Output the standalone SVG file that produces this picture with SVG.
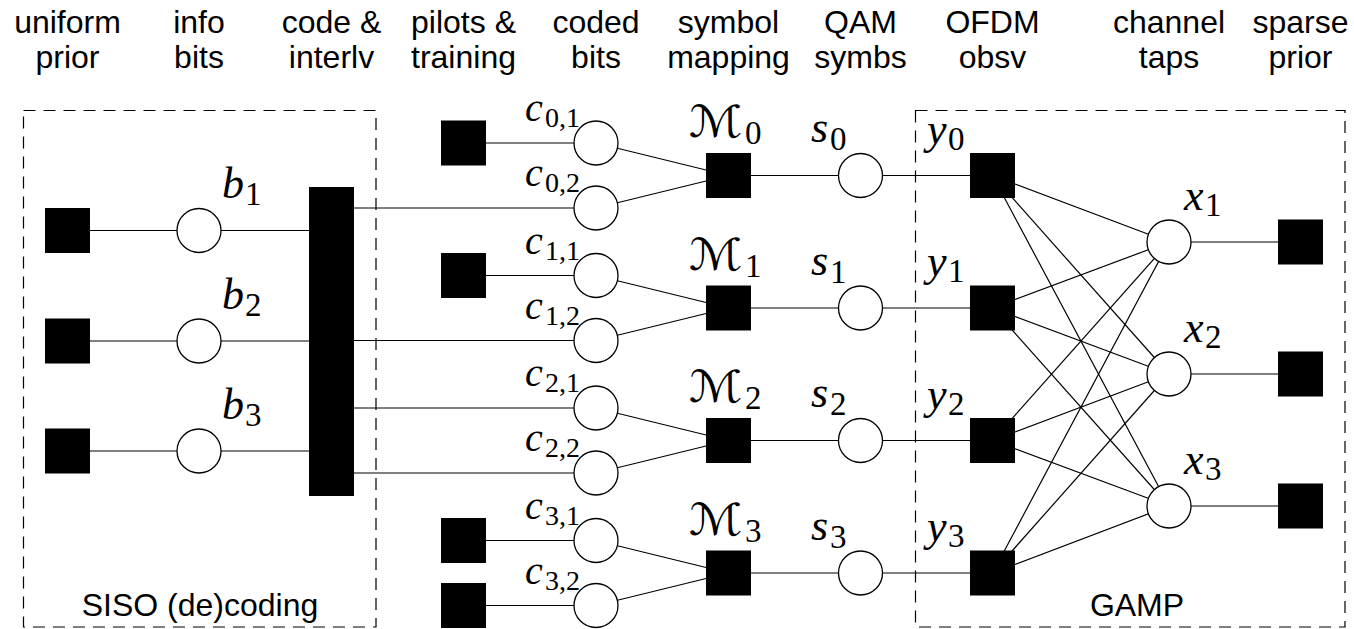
<svg xmlns="http://www.w3.org/2000/svg" width="1354" height="629" viewBox="0 0 1354 629">
<style>
.lbl{font-family:"Liberation Sans",Arial,sans-serif;font-size:32px;fill:#000;text-anchor:middle}
.m{font-family:"Liberation Serif","Times New Roman",serif;font-style:italic;font-size:44px;fill:#000}
.c{font-family:"Liberation Serif","Times New Roman",serif;font-style:italic;font-size:40px;fill:#000}
.sub{font-family:"Liberation Serif","Times New Roman",serif;font-style:normal;font-size:33px}
.csub{font-family:"Liberation Serif","Times New Roman",serif;font-style:normal;font-size:28px}
.cal{font-family:"DejaVu Serif","DejaVu Sans",serif;font-style:normal;font-size:44px;fill:#000}
.msub{font-family:"Liberation Serif","Times New Roman",serif;font-size:33px;fill:#000}
.sq{fill:#000}
.ci{fill:#fff;stroke:#000;stroke-width:1.3}
.ln{stroke:#000;stroke-width:1.2;fill:none}
.box{fill:none;stroke:#000;stroke-width:1.2;stroke-dasharray:12 8}
</style>
<rect width="1354" height="629" fill="#fff"/>

<g id="column-labels">
<text class="lbl" x="67.5" y="33">uniform</text><text class="lbl" x="67.5" y="68">prior</text>
<text class="lbl" x="199" y="33">info</text><text class="lbl" x="199" y="68">bits</text>
<text class="lbl" x="331.5" y="33">code &amp;</text><text class="lbl" x="331.5" y="68">interlv</text>
<text class="lbl" x="463.5" y="33">pilots &amp;</text><text class="lbl" x="463.5" y="68">training</text>
<text class="lbl" x="596" y="33">coded</text><text class="lbl" x="596" y="68">bits</text>
<text class="lbl" x="728.5" y="33">symbol</text><text class="lbl" x="728.5" y="68">mapping</text>
<text class="lbl" x="860.5" y="33">QAM</text><text class="lbl" x="860.5" y="68">symbs</text>
<text class="lbl" x="992.5" y="33">OFDM</text><text class="lbl" x="992.5" y="68">obsv</text>
<text class="lbl" x="1169" y="33">channel</text><text class="lbl" x="1169" y="68">taps</text>
<text class="lbl" x="1300.5" y="33">sparse</text><text class="lbl" x="1300.5" y="68">prior</text>
</g>

<g id="siso-box">
<rect class="box" x="23.5" y="110.5" width="352.5" height="516.5"/>
<text class="lbl" x="200" y="616">SISO (de)coding</text>
</g>
<g id="gamp-box">
<rect class="box" x="915.5" y="110.5" width="429.5" height="516.5"/>
<text class="lbl" x="1137" y="616">GAMP</text>
</g>

<g id="connectors" class="ln">
<line x1="90" y1="230.5" x2="309" y2="230.5"/>
<line x1="90" y1="341" x2="309" y2="341"/>
<line x1="90" y1="451" x2="309" y2="451"/>
<line x1="354" y1="208" x2="596" y2="208"/>
<line x1="354" y1="340.5" x2="596" y2="340.5"/>
<line x1="354" y1="408" x2="596" y2="408"/>
<line x1="354" y1="473" x2="596" y2="473"/>
<line x1="486" y1="143" x2="596" y2="143"/>
<line x1="486" y1="275.5" x2="596" y2="275.5"/>
<line x1="486" y1="540.5" x2="596" y2="540.5"/>
<line x1="486" y1="605.5" x2="596" y2="605.5"/>
<line x1="596" y1="143" x2="728.5" y2="175.5"/>
<line x1="596" y1="208" x2="728.5" y2="175.5"/>
<line x1="596" y1="275.5" x2="728.5" y2="308"/>
<line x1="596" y1="340.5" x2="728.5" y2="308"/>
<line x1="596" y1="408" x2="728.5" y2="440.5"/>
<line x1="596" y1="473" x2="728.5" y2="440.5"/>
<line x1="596" y1="540.5" x2="728.5" y2="573"/>
<line x1="596" y1="605.5" x2="728.5" y2="573"/>
<line x1="728.5" y1="175.5" x2="992.5" y2="175.5"/>
<line x1="728.5" y1="308" x2="992.5" y2="308"/>
<line x1="728.5" y1="440.5" x2="992.5" y2="440.5"/>
<line x1="728.5" y1="573" x2="992.5" y2="573"/>
<line x1="992.5" y1="175.5" x2="1169" y2="242"/>
<line x1="992.5" y1="175.5" x2="1169" y2="374"/>
<line x1="992.5" y1="175.5" x2="1169" y2="506"/>
<line x1="992.5" y1="308" x2="1169" y2="242"/>
<line x1="992.5" y1="308" x2="1169" y2="374"/>
<line x1="992.5" y1="308" x2="1169" y2="506"/>
<line x1="992.5" y1="440.5" x2="1169" y2="242"/>
<line x1="992.5" y1="440.5" x2="1169" y2="374"/>
<line x1="992.5" y1="440.5" x2="1169" y2="506"/>
<line x1="992.5" y1="573" x2="1169" y2="242"/>
<line x1="992.5" y1="573" x2="1169" y2="374"/>
<line x1="992.5" y1="573" x2="1169" y2="506"/>
<line x1="1169" y1="242" x2="1300.5" y2="242"/>
<line x1="1169" y1="374" x2="1300.5" y2="374"/>
<line x1="1169" y1="506" x2="1300.5" y2="506"/>
</g>

<g id="uniform-priors">
<rect class="sq" x="45" y="208" width="45" height="45"/>
<rect class="sq" x="45" y="318.5" width="45" height="45"/>
<rect class="sq" x="45" y="428.5" width="45" height="45"/>
</g>
<g id="b1"><circle class="ci" cx="199" cy="230.5" r="22"/><text class="m" x="222" y="198">b<tspan class="sub" x="245" y="205">1</tspan></text></g>
<g id="b2"><circle class="ci" cx="199" cy="341" r="22"/><text class="m" x="222" y="308.5">b<tspan class="sub" x="245" y="315.5">2</tspan></text></g>
<g id="b3"><circle class="ci" cx="199" cy="451" r="22"/><text class="m" x="222" y="418.5">b<tspan class="sub" x="245" y="425.5">3</tspan></text></g>
<g id="interleaver"><rect class="sq" x="309" y="187" width="45" height="309"/></g>

<g id="pilots">
<rect class="sq" x="441" y="120.5" width="45" height="45"/>
<rect class="sq" x="441" y="253" width="45" height="45"/>
<rect class="sq" x="441" y="518" width="45" height="45"/>
<rect class="sq" x="441" y="583" width="45" height="45"/>
</g>

<g id="c01"><circle class="ci" cx="596" cy="143" r="22"/><text class="c" x="525" y="121">c<tspan class="csub" x="545" y="127">0,1</tspan></text></g>
<g id="c02"><circle class="ci" cx="596" cy="208" r="22"/><text class="c" x="525" y="186">c<tspan class="csub" x="545" y="192">0,2</tspan></text></g>
<g id="c11"><circle class="ci" cx="596" cy="275.5" r="22"/><text class="c" x="525" y="253.5">c<tspan class="csub" x="545" y="259.5">1,1</tspan></text></g>
<g id="c12"><circle class="ci" cx="596" cy="340.5" r="22"/><text class="c" x="525" y="318.5">c<tspan class="csub" x="545" y="324.5">1,2</tspan></text></g>
<g id="c21"><circle class="ci" cx="596" cy="408" r="22"/><text class="c" x="525" y="386">c<tspan class="csub" x="545" y="392">2,1</tspan></text></g>
<g id="c22"><circle class="ci" cx="596" cy="473" r="22"/><text class="c" x="525" y="451">c<tspan class="csub" x="545" y="457">2,2</tspan></text></g>
<g id="c31"><circle class="ci" cx="596" cy="540.5" r="22"/><text class="c" x="525" y="518.5">c<tspan class="csub" x="545" y="524.5">3,1</tspan></text></g>
<g id="c32"><circle class="ci" cx="596" cy="605.5" r="22"/><text class="c" x="525" y="583.5">c<tspan class="csub" x="545" y="589.5">3,2</tspan></text></g>

<g id="M0"><rect class="sq" x="706" y="153" width="45" height="45"/><text class="cal" x="689" y="137" textLength="54" lengthAdjust="spacingAndGlyphs">ℳ</text><text class="msub" x="745" y="144">0</text></g>
<g id="M1"><rect class="sq" x="706" y="285.5" width="45" height="45"/><text class="cal" x="689" y="269.5" textLength="54" lengthAdjust="spacingAndGlyphs">ℳ</text><text class="msub" x="745" y="276.5">1</text></g>
<g id="M2"><rect class="sq" x="706" y="418" width="45" height="45"/><text class="cal" x="689" y="402" textLength="54" lengthAdjust="spacingAndGlyphs">ℳ</text><text class="msub" x="745" y="409">2</text></g>
<g id="M3"><rect class="sq" x="706" y="550.5" width="45" height="45"/><text class="cal" x="689" y="534.5" textLength="54" lengthAdjust="spacingAndGlyphs">ℳ</text><text class="msub" x="745" y="541.5">3</text></g>

<g id="s0"><circle class="ci" cx="860.5" cy="175.5" r="22"/><text class="m" x="811" y="142">s<tspan class="sub" x="830" y="150">0</tspan></text></g>
<g id="s1"><circle class="ci" cx="860.5" cy="308" r="22"/><text class="m" x="811" y="274.5">s<tspan class="sub" x="830" y="282.5">1</tspan></text></g>
<g id="s2"><circle class="ci" cx="860.5" cy="440.5" r="22"/><text class="m" x="811" y="407">s<tspan class="sub" x="830" y="415">2</tspan></text></g>
<g id="s3"><circle class="ci" cx="860.5" cy="573" r="22"/><text class="m" x="811" y="539.5">s<tspan class="sub" x="830" y="547.5">3</tspan></text></g>

<g id="y0"><rect class="sq" x="970" y="153" width="45" height="45"/><text class="m" x="927" y="143.5">y<tspan class="sub" x="948" y="149.5">0</tspan></text></g>
<g id="y1"><rect class="sq" x="970" y="285.5" width="45" height="45"/><text class="m" x="927" y="276">y<tspan class="sub" x="948" y="282">1</tspan></text></g>
<g id="y2"><rect class="sq" x="970" y="418" width="45" height="45"/><text class="m" x="927" y="408.5">y<tspan class="sub" x="948" y="414.5">2</tspan></text></g>
<g id="y3"><rect class="sq" x="970" y="550.5" width="45" height="45"/><text class="m" x="927" y="541">y<tspan class="sub" x="948" y="547">3</tspan></text></g>

<g id="x1"><circle class="ci" cx="1169" cy="242" r="22"/><text class="m" x="1184" y="210">x<tspan class="sub" x="1205" y="216">1</tspan></text></g>
<g id="x2"><circle class="ci" cx="1169" cy="374" r="22"/><text class="m" x="1184" y="342">x<tspan class="sub" x="1205" y="348">2</tspan></text></g>
<g id="x3"><circle class="ci" cx="1169" cy="506" r="22"/><text class="m" x="1184" y="474">x<tspan class="sub" x="1205" y="480">3</tspan></text></g>

<g id="sparse-priors">
<rect class="sq" x="1278" y="219.5" width="45" height="45"/>
<rect class="sq" x="1278" y="351.5" width="45" height="45"/>
<rect class="sq" x="1278" y="483.5" width="45" height="45"/>
</g>
</svg>
